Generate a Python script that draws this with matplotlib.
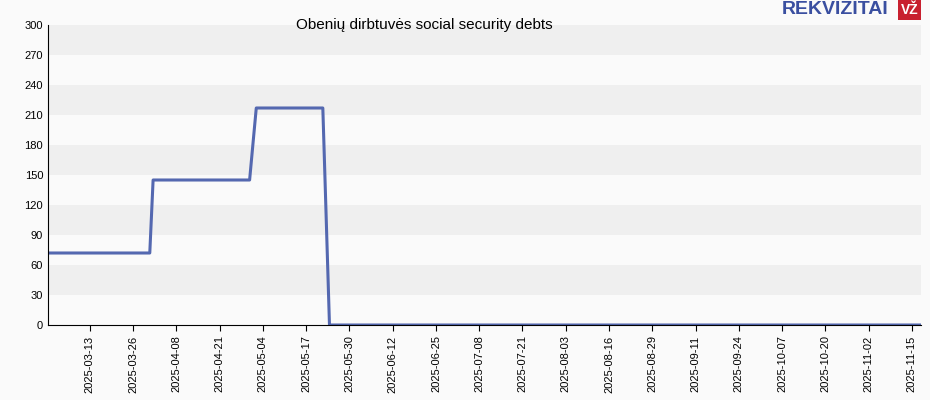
import matplotlib
matplotlib.use("Agg")
import matplotlib.pyplot as plt
import matplotlib.dates as mdates
import numpy as np
import datetime as dt

dates = ["2025-02-28","2025-03-31","2025-04-01","2025-04-30","2025-05-02","2025-05-22","2025-05-24","2025-11-18"]
values = [72,72,145,145,217,217,0,0]
tick_dates = ["2025-03-13","2025-03-26","2025-04-08","2025-04-21","2025-05-04","2025-05-17","2025-05-30",
              "2025-06-12","2025-06-25","2025-07-08","2025-07-21","2025-08-03","2025-08-16","2025-08-29",
              "2025-09-11","2025-09-24","2025-10-07","2025-10-20","2025-11-02","2025-11-15"]
yticks = list(range(0, 301, 30))
title = "Obenių dirbtuvės social security debts"

x = [dt.datetime.strptime(d, "%Y-%m-%d") for d in dates]
tx = [dt.datetime.strptime(d, "%Y-%m-%d") for d in tick_dates]

plt.rcParams['font.family'] = ['Liberation Sans', 'DejaVu Sans']
fig = plt.figure(figsize=(9.3, 4.0), dpi=100)
fig.patch.set_facecolor("#fafafa")
ax = fig.add_axes([48/930, 75/400, (921-48)/930, (325-25)/400])
ax.set_facecolor("#fafafa")
for i in range(0, 10):
    if i % 2 == 1:
        ax.axhspan(yticks[i], yticks[i+1], color="#efefef", lw=0)
ax.plot(x, values, color="#5468b0", lw=2.2)
ax.set_ylim(0, 300)
ax.set_xlim(x[0] + dt.timedelta(hours=10), x[-1] - dt.timedelta(hours=6))
ax.set_yticks(yticks)
ax.set_xticks(tx)
ax.xaxis.set_major_formatter(mdates.DateFormatter("%Y-%m-%d"))
ax.tick_params(axis='x', rotation=90, labelsize=8, length=4)
ax.tick_params(axis='y', labelsize=8, length=0)
for s in ["top", "right"]:
    ax.spines[s].set_visible(False)
fig.text(0.456, 0.937, title, ha="center", va="center", fontsize=11)
fig.text(0.955, 0.975, "REKVIZITAI", ha="right", va="center", fontsize=14, fontweight="bold", color="#3a4fa0")
fig.text(0.978, 0.975, "VŽ", ha="center", va="center", fontsize=10, fontweight="bold", color="white",
         bbox=dict(facecolor="#c8202f", edgecolor="none", pad=2))
fig.savefig("out.png", dpi=100, facecolor=fig.get_facecolor())
